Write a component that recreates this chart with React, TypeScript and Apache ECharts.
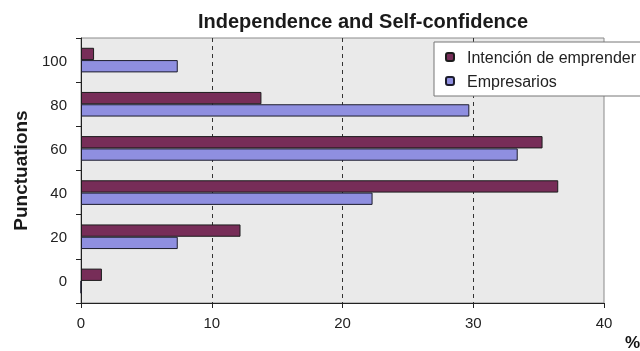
import React, { useEffect, useRef } from "react";
import * as echarts from "echarts";

// Score bands on the vertical axis (bottom to top)
const punctuations = ["0", "20", "40", "60", "80", "100"];
// Percentage of respondents in each band
const intencionEmprender = [1.6, 12.2, 36.5, 35.3, 13.8, 1.0];
const empresarios = [0, 7.4, 22.3, 33.4, 29.7, 7.4];

const FONT = "'Liberation Sans', Arial, Helvetica, sans-serif";

export default function App() {
  const ref = useRef<HTMLDivElement>(null);

  useEffect(() => {
    if (!ref.current) return;
    const chart = echarts.init(ref.current, null, { renderer: "svg" });
    chart.setOption({
      animation: false,
      textStyle: { fontFamily: FONT },
      title: {
        text: "Independence and Self-confidence",
        left: 358,
        textAlign: "center",
        top: 6,
        textStyle: { fontFamily: FONT, fontSize: 20, fontWeight: "bold", color: "#1a1a1a" },
      },
      legend: {
        orient: "vertical",
        left: 434,
        top: 42,
        data: ["Intención de emprender", "Empresarios"],
        backgroundColor: "#ffffff",
        borderColor: "#777",
        borderWidth: 1,
        borderRadius: 0,
        padding: [7, 20, 7, 11],
        itemWidth: 8,
        itemHeight: 8,
        itemGap: 8,
        textStyle: {
          fontFamily: FONT,
          fontSize: 16,
          color: "#222",
          padding: [0, 0, 0, 8],
        },
      },
      grid: {
        left: 81,
        right: 36,
        top: 38,
        bottom: 48,
        containLabel: false,
        outerBoundsMode: "none",
        show: true,
        backgroundColor: "#eaeaea",
        borderColor: "#8a8a8a",
        borderWidth: 1,
      },
      xAxis: {
        type: "value",
        min: 0,
        max: 40,
        interval: 10,
        name: "%",
        nameLocation: "end",
        nameGap: 0,
        nameTextStyle: {
          fontFamily: FONT,
          fontSize: 17,
          fontWeight: "bold",
          color: "#111",
          padding: [31, 0, 0, 21],
          verticalAlign: "top",
        },
        axisLine: { show: true, lineStyle: { color: "#222", width: 1 } },
        axisTick: { show: true, length: 5, lineStyle: { color: "#222" } },
        axisLabel: { fontFamily: FONT, fontSize: 15, color: "#222", margin: 12 },
        splitLine: {
          show: true,
          showMinLine: false,
          showMaxLine: false,
          lineStyle: { color: "#333", type: [4, 4], width: 1 },
        },
      },
      yAxis: {
        type: "category",
        data: punctuations,
        name: "Punctuations",
        nameLocation: "middle",
        nameGap: 51,
        nameRotate: 90,
        nameTextStyle: { fontFamily: FONT, fontSize: 19, fontWeight: "bold", color: "#1a1a1a" },
        axisLine: { show: true, lineStyle: { color: "#222", width: 1 } },
        axisTick: { show: true, length: 5, lineStyle: { color: "#222" } },
        axisLabel: { fontFamily: FONT, fontSize: 15, color: "#222", margin: 14 },
        splitLine: { show: false },
      },
      series: [
        {
          name: "Intención de emprender",
          type: "bar",
          data: intencionEmprender,
          barWidth: 12.3,
          barGap: "0%",
          itemStyle: { color: "#772d58", borderColor: "#1c1c1c", borderWidth: 1 },
        },
        {
          name: "Empresarios",
          type: "bar",
          data: empresarios,
          barWidth: 12.3,
          barGap: "0%",
          itemStyle: { color: "#8f8fe0", borderColor: "#1c1c2c", borderWidth: 1 },
        },
      ],
    });
    return () => chart.dispose();
  }, []);

  return (
    <div
      ref={ref}
      style={{ position: "fixed", left: 0, top: 0, width: 640, height: 351 }}
    />
  );
}
